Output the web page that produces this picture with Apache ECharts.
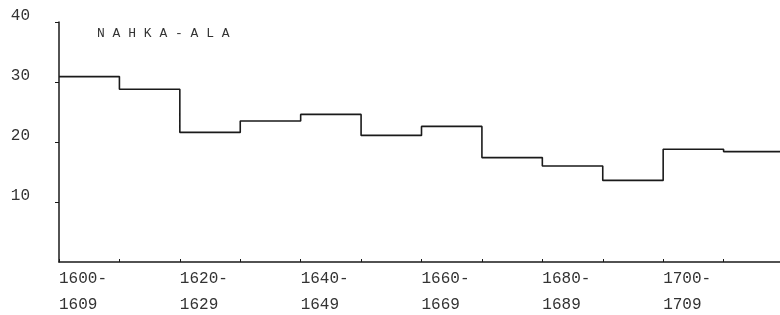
<!DOCTYPE html>
<html>
<head>
<meta charset="utf-8">
<script src="https://cdn.jsdelivr.net/npm/echarts@6/dist/echarts.min.js"></script>
<style>
  html, body { margin: 0; padding: 0; background: #fff; }
  #chart { width: 780px; height: 315px; }
</style>
</head>
<body>
<div id="chart"></div>
<script>
// decade start years and the value for each decade
var decades = [1600, 1610, 1620, 1630, 1640, 1650, 1660, 1670, 1680, 1690, 1700, 1710];
var values = [30.9, 28.8, 21.6, 23.5, 24.6, 21.1, 22.6, 17.4, 16.0, 13.6, 18.8, 18.4];
var yTicks = [0, 10, 20, 30, 40];
var labelYears = [1600, 1620, 1640, 1660, 1680, 1700];
var titleText = "NAHKA-ALA";

var mono = "'Liberation Mono', 'DejaVu Sans Mono', monospace";
var ink = "#1a1a1a";

// step line: one point per decade start, plus the end of the last decade
var points = decades.map(function (d, i) { return [d, values[i]]; });
points.push([1720, values[values.length - 1]]);

var chart = echarts.init(document.getElementById("chart"));
chart.setOption({
  backgroundColor: "#fff",
  animation: false,
  title: {
    text: titleText.split("").join(" "),
    left: 92,
    top: 22,
    textStyle: { fontFamily: mono, fontSize: 13, fontWeight: "normal", color: "#333" }
  },
  grid: { left: 59, right: -4, top: 22, bottom: 53, outerBoundsMode: "none" },
  xAxis: {
    type: "value",
    min: 1600,
    max: 1720,
    interval: 10,
    splitLine: { show: false },
    axisLine: { lineStyle: { color: ink, width: 1.5 } },
    axisTick: { inside: true, length: 3, lineStyle: { color: ink } },
    axisLabel: {
      showMaxLabel: false,
      margin: 4,
      align: "left",
      fontFamily: mono,
      fontSize: 16,
      lineHeight: 26,
      color: "#333",
      formatter: function (v) {
        return labelYears.indexOf(v) >= 0 ? v + "-\n" + (v + 9) : "";
      }
    }
  },
  yAxis: {
    type: "value",
    min: yTicks[0],
    max: yTicks[yTicks.length - 1],
    interval: 10,
    splitLine: { show: false },
    axisLine: { show: true, lineStyle: { color: ink, width: 1.5 } },
    axisTick: { show: true, length: 4, lineStyle: { color: ink } },
    axisLabel: {
      showMinLabel: false,
      margin: 29,
      fontFamily: mono,
      fontSize: 16,
      color: "#333",
      verticalAlign: "bottom",
      lineHeight: 12
    }
  },
  series: [{
    type: "line",
    step: "end",
    data: points,
    symbol: "none",
    lineStyle: { color: ink, width: 1.6 }
  }]
});
</script>
</body>
</html>
